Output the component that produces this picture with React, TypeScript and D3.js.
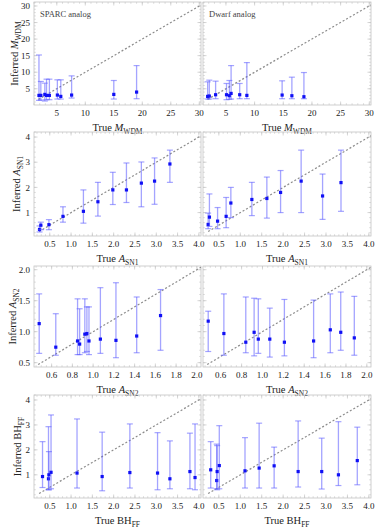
import React from "react";
import * as d3 from "d3";

// ---- data ----
const sparcMwdmTrue = [1.87, 2.2, 2.9, 3.2, 3.7, 5.1, 5.7, 7.6, 15.0, 19.0];
const sparcMwdmInferred = [3.0, 3.0, 3.3, 3.0, 3.0, 3.1, 2.7, 3.1, 3.3, 4.0];
const sparcMwdmLow = [1.5, 1.6, 1.3, 1.7, 1.7, 1.9, 1.9, 2.2, 1.9, 2.0];
const sparcMwdmHigh = [15.2, 7.2, 6.7, 7.9, 7.9, 7.7, 7.7, 8.9, 7.5, 12.0];

const dwarfMwdmTrue = [1.81, 2.1, 3.2, 5.1, 5.6, 5.9, 7.4, 8.65, 14.8, 16.5, 18.6];
const dwarfMwdmInferred = [2.7, 2.8, 3.2, 3.2, 2.9, 3.6, 3.2, 3.0, 3.1, 2.9, 2.6];
const dwarfMwdmLow = [1.9, 1.9, 2.0, 1.7, 1.8, 1.9, 2.0, 2.0, 2.0, 2.0, 2.0];
const dwarfMwdmHigh = [7.1, 7.6, 7.3, 6.6, 7.5, 12.0, 6.6, 12.9, 7.4, 8.5, 9.9];

const sparcSn1True = [0.26, 0.29, 0.48, 0.81, 1.29, 1.63, 1.98, 2.3, 2.65, 2.96, 3.32];
const sparcSn1Inferred = [0.33, 0.5, 0.52, 0.85, 1.05, 1.43, 1.9, 1.9, 2.17, 2.25, 2.93];
const sparcSn1Low = [0.23, 0.32, 0.32, 0.62, 0.58, 0.86, 1.32, 1.4, 1.23, 1.33, 2.2];
const sparcSn1High = [0.47, 0.62, 0.72, 1.23, 1.9, 2.2, 2.6, 2.97, 3.01, 3.17, 3.48];

const dwarfSn1True = [0.25, 0.28, 0.47, 0.67, 0.78, 1.27, 1.62, 1.94, 2.42, 2.92, 3.35];
const dwarfSn1Inferred = [0.53, 0.82, 0.66, 0.85, 1.38, 1.52, 1.56, 1.8, 2.25, 1.66, 2.19];
const dwarfSn1Low = [0.36, 0.45, 0.36, 0.4, 0.8, 0.88, 0.78, 1.0, 1.0, 0.73, 1.05];
const dwarfSn1High = [0.98, 1.74, 1.2, 1.6, 2.0, 2.2, 2.41, 2.67, 3.48, 2.53, 3.48];

const sparcSn2True = [0.48, 0.64, 0.85, 0.87, 0.92, 0.94, 0.96, 1.07, 1.22, 1.42, 1.65];
const sparcSn2Inferred = [1.13, 0.75, 0.85, 0.8, 0.96, 0.97, 0.85, 0.88, 0.86, 0.93, 1.26];
const sparcSn2Low = [0.65, 0.62, 0.63, 0.63, 0.66, 0.68, 0.63, 0.65, 0.58, 0.66, 0.7];
const sparcSn2High = [1.61, 1.29, 1.53, 1.37, 1.53, 1.4, 1.4, 1.71, 1.79, 1.56, 1.68];

const dwarfSn2True = [0.48, 0.63, 0.84, 0.92, 0.96, 1.07, 1.21, 1.49, 1.65, 1.75, 1.88];
const dwarfSn2Inferred = [1.17, 0.97, 0.83, 0.99, 0.88, 0.88, 0.83, 0.85, 1.03, 0.99, 0.9];
const dwarfSn2Low = [0.68, 0.62, 0.66, 0.61, 0.65, 0.59, 0.61, 0.58, 0.66, 0.7, 0.62];
const dwarfSn2High = [1.33, 1.61, 1.56, 1.54, 1.53, 1.38, 1.52, 1.51, 1.61, 1.64, 1.57];

const sparcBhTrue = [0.33, 0.47, 0.48, 0.53, 1.14, 1.73, 2.38, 3.03, 3.32, 3.79, 3.91];
const sparcBhInferred = [0.93, 0.84, 1.0, 1.1, 1.07, 0.93, 1.09, 1.07, 0.84, 1.13, 0.89];
const sparcBhLow = [0.49, 0.4, 0.4, 0.44, 0.47, 0.36, 0.47, 0.4, 0.44, 0.44, 0.4];
const sparcBhHigh = [2.33, 2.93, 1.93, 3.4, 3.24, 2.71, 3.04, 2.69, 2.36, 2.67, 3.04];

const dwarfBhTrue = [0.31, 0.45, 0.46, 0.51, 1.11, 1.44, 1.79, 2.35, 2.9, 3.29, 3.73];
const dwarfBhInferred = [1.2, 0.77, 1.13, 1.37, 1.16, 1.27, 1.36, 1.13, 1.13, 1.0, 1.57];
const dwarfBhLow = [0.47, 0.44, 0.4, 0.44, 0.47, 0.47, 0.47, 0.51, 0.43, 0.57, 0.6];
const dwarfBhHigh = [2.33, 2.23, 2.17, 2.97, 2.49, 3.07, 2.11, 3.16, 2.47, 3.13, 2.91];

const mwdmTicks = [5, 10, 15, 20, 25, 30];
const snTicks = [0.5, 1.0, 1.5, 2.0, 2.5, 3.0, 3.5, 4.0];
const sn2XTicks = [0.6, 0.8, 1.0, 1.2, 1.4, 1.6, 1.8, 2.0];
const sn2YTicks = [0.5, 1.0, 1.5, 2.0];
const unitTicks = [1, 2, 3, 4];

const panelLabels = ["SPARC analog", "Dwarf analog"];

const W = 381;
const H = 527;
const cols: [number, number][] = [[34, 201], [203, 371]];
const font = "'Liberation Serif', 'DejaVu Serif', serif";

type Series = { x: number[]; y: number[]; lo: number[]; hi: number[] };

const rows = [
  {
    top: 2, bottom: 105,
    xDomain: [1, 30.3], yDomain: [0.1, 31.2], diag: [1.8, 30.3],
    xTicks: mwdmTicks, xMinor: 1, yTicks: mwdmTicks, yMinor: 1, fmtX: "d", fmtY: "d",
    sym: "M", sub: "WDM", italic: true, yTitleX: 18,
    series: [
      { x: sparcMwdmTrue, y: sparcMwdmInferred, lo: sparcMwdmLow, hi: sparcMwdmHigh },
      { x: dwarfMwdmTrue, y: dwarfMwdmInferred, lo: dwarfMwdmLow, hi: dwarfMwdmHigh },
    ],
  },
  {
    top: 132, bottom: 236,
    xDomain: [0.13, 4.05], yDomain: [0.07, 4.2], diag: [0.25, 4.05],
    xTicks: snTicks, xMinor: 0.1, yTicks: unitTicks, yMinor: 0.2, fmtX: ".1f", fmtY: "d",
    sym: "A", sub: "SN1", italic: true, yTitleX: 20,
    series: [
      { x: sparcSn1True, y: sparcSn1Inferred, lo: sparcSn1Low, hi: sparcSn1High },
      { x: dwarfSn1True, y: dwarfSn1Inferred, lo: dwarfSn1Low, hi: dwarfSn1High },
    ],
  },
  {
    top: 266, bottom: 367,
    xDomain: [0.43, 2.04], yDomain: [0.43, 2.06], diag: [0.47, 2.04],
    xTicks: sn2XTicks, xMinor: 0.05, yTicks: sn2YTicks, yMinor: 0.1, fmtX: ".1f", fmtY: ".1f",
    sym: "A", sub: "SN2", italic: true, yTitleX: 16,
    series: [
      { x: sparcSn2True, y: sparcSn2Inferred, lo: sparcSn2Low, hi: sparcSn2High },
      { x: dwarfSn2True, y: dwarfSn2Inferred, lo: dwarfSn2Low, hi: dwarfSn2High },
    ],
  },
  {
    top: 395, bottom: 498,
    xDomain: [0.13, 4.05], yDomain: [0.07, 4.2], diag: [0.25, 4.05],
    xTicks: snTicks, xMinor: 0.1, yTicks: unitTicks, yMinor: 0.2, fmtX: ".1f", fmtY: "d",
    sym: "BH", sub: "FF", italic: false, yTitleX: 21,
    series: [
      { x: sparcBhTrue, y: sparcBhInferred, lo: sparcBhLow, hi: sparcBhHigh },
      { x: dwarfBhTrue, y: dwarfBhInferred, lo: dwarfBhLow, hi: dwarfBhHigh },
    ],
  },
];

function minorTicks(domain: number[], step: number) {
  const out: number[] = [];
  const start = Math.ceil(domain[0] / step - 1e-9);
  for (let k = start; k * step <= domain[1] + 1e-9; k++) out.push(+(k * step).toFixed(4));
  return out;
}

function Title({ prefix, sym, sub, italic, ...rest }: any) {
  return (
    <text fontFamily={font} fontSize={10.5} fill="#222" {...rest}>
      {prefix}
      <tspan fontStyle={italic ? "italic" : "normal"}>{sym}</tspan>
      <tspan fontSize={7.5} dy={2.5}>{sub}</tspan>
    </text>
  );
}

function Panel({ row, col, s }: { row: any; col: number; s: Series }) {
  const [x0, x1] = cols[col];
  const x = d3.scaleLinear().domain(row.xDomain).range([x0, x1]);
  const y = d3.scaleLinear().domain(row.yDomain).range([row.bottom, row.top]);
  const fx = d3.format(row.fmtX);
  const fy = d3.format(row.fmtY);
  const frame = "#c4c4c4";
  const xMin = minorTicks(row.xDomain, row.xMinor);
  const yMin = minorTicks(row.yDomain, row.yMinor);
  const clipId = `clip-${row.top}-${col}`;
  const bar = "rgba(90,90,255,0.55)";
  return (
    <g>
      <clipPath id={clipId}>
        <rect x={x0} y={row.top} width={x1 - x0} height={row.bottom - row.top} />
      </clipPath>
      <rect x={x0} y={row.top} width={x1 - x0} height={row.bottom - row.top} fill="none" stroke={frame} strokeWidth={0.8} />
      {xMin.map((v, i) => (
        <g key={"xm" + i} stroke={frame} strokeWidth={0.6}>
          <line x1={x(v)} x2={x(v)} y1={row.bottom} y2={row.bottom - 1.8} />
          <line x1={x(v)} x2={x(v)} y1={row.top} y2={row.top + 1.8} />
        </g>
      ))}
      {yMin.map((v, i) => (
        <g key={"ym" + i} stroke={frame} strokeWidth={0.6}>
          <line x1={x0} x2={x0 + 1.8} y1={y(v)} y2={y(v)} />
          <line x1={x1} x2={x1 - 1.8} y1={y(v)} y2={y(v)} />
        </g>
      ))}
      {row.xTicks.map((v: number) => (
        <g key={"xt" + v}>
          <line x1={x(v)} x2={x(v)} y1={row.bottom} y2={row.bottom - 3.5} stroke={frame} strokeWidth={0.7} />
          <line x1={x(v)} x2={x(v)} y1={row.top} y2={row.top + 3.5} stroke={frame} strokeWidth={0.7} />
          <text x={x(v)} y={row.bottom + 11} textAnchor="middle" fontFamily={font} fontSize={9} fill="#222">
            {fx(v)}
          </text>
        </g>
      ))}
      {row.yTicks.map((v: number) => (
        <g key={"yt" + v}>
          <line x1={x0} x2={x0 + 3.5} y1={y(v)} y2={y(v)} stroke={frame} strokeWidth={0.7} />
          <line x1={x1} x2={x1 - 3.5} y1={y(v)} y2={y(v)} stroke={frame} strokeWidth={0.7} />
          {col === 0 && (
            <text x={x0 - 4} y={y(v)} dy="0.35em" textAnchor="end" fontFamily={font} fontSize={9} fill="#222">
              {fy(v)}
            </text>
          )}
        </g>
      ))}
      <g clipPath={`url(#${clipId})`}>
        <line
          x1={x(row.diag[0])} y1={y(row.diag[0])} x2={x(row.diag[1])} y2={y(row.diag[1])}
          stroke="#8c8c8c" strokeWidth={1.2} strokeDasharray="2,2"
        />
        {s.x.map((v, i) => (
          <g key={"e" + i}>
            <line x1={x(v)} x2={x(v)} y1={y(s.lo[i])} y2={y(s.hi[i])} stroke={bar} strokeWidth={1.3} />
            <line x1={x(v) - 3} x2={x(v) + 3} y1={y(s.lo[i])} y2={y(s.lo[i])} stroke={bar} strokeWidth={1.2} />
            <line x1={x(v) - 3} x2={x(v) + 3} y1={y(s.hi[i])} y2={y(s.hi[i])} stroke={bar} strokeWidth={1.2} />
            <rect x={x(v) - 1.6} y={y(s.y[i]) - 1.6} width={3.2} height={3.2} fill="#1010f5" />
          </g>
        ))}
      </g>
      <Title
        x={(x0 + x1) / 2} y={row.bottom + 26} textAnchor="middle"
        prefix="True " sym={row.sym} sub={row.sub} italic={row.italic}
      />
    </g>
  );
}

export default function App() {
  return (
    <svg width={W} height={H} style={{ display: "block", position: "absolute", left: 0, top: 0, background: "#fff" }}>
      {rows.map((row, r) => (
        <g key={r}>
          {row.series.map((s, c) => (
            <Panel key={c} row={row} col={c} s={s} />
          ))}
          <Title
            transform={`translate(${row.yTitleX},${(row.top + row.bottom) / 2}) rotate(-90)`}
            textAnchor="middle" prefix="Inferred " sym={row.sym} sub={row.sub} italic={row.italic}
          />
        </g>
      ))}
      {panelLabels.map((t, i) => (
        <text key={t} x={cols[i][0] + 6} y={17} fontFamily={font} fontSize={8.5} fill="#444">
          {t}
        </text>
      ))}
    </svg>
  );
}
